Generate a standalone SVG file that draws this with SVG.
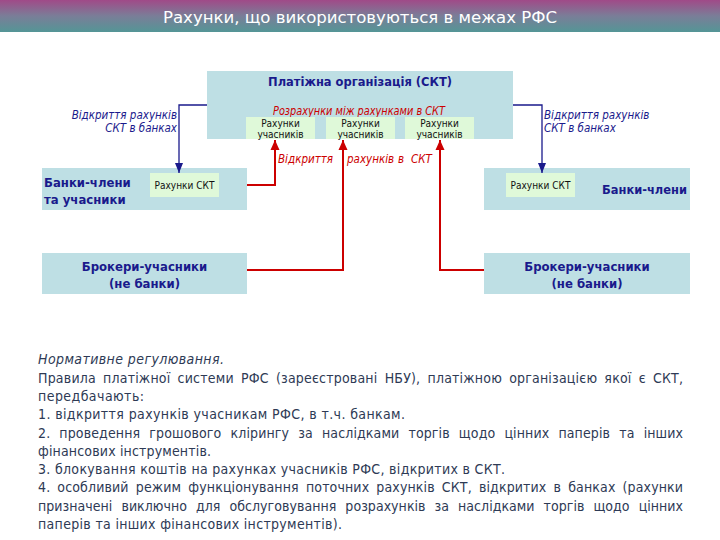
<svg xmlns="http://www.w3.org/2000/svg" width="720" height="540" viewBox="0 0 720 540">
<defs>
<linearGradient id="bar" x1="0" y1="0" x2="0" y2="1">
<stop offset="0" stop-color="#A04A88"/>
<stop offset="0.5" stop-color="#7A7E98"/>
<stop offset="1" stop-color="#549696"/>
</linearGradient>
<marker id="arB" markerUnits="userSpaceOnUse" markerWidth="10" markerHeight="10" viewBox="0 0 10 10" refX="10" refY="5" orient="auto">
<path d="M0,1 L10,5 L0,9 Z" fill="#1A1A8C"/>
</marker>
<marker id="arR" markerUnits="userSpaceOnUse" markerWidth="10" markerHeight="10" viewBox="0 0 10 10" refX="10" refY="5" orient="auto">
<path d="M0,0.5 L10,5 L0,9.5 Z" fill="#CC0000"/>
</marker>
</defs>
<style>
.box{fill:#BEDFE4}
.acc{fill:#DFF9D9}
.f{font-family:"DejaVu Sans Condensed","DejaVu Sans","Liberation Sans",sans-serif}
.nb{font-size:13px;font-weight:bold;fill:#1A1A8C}
.sm{font-size:10px;fill:#111}
.lbl{font-size:11.5px;font-style:italic;fill:#1A1A8C}
.red{font-size:11.5px;font-style:italic;fill:#CC0000}
.body{font-size:14px;fill:#2E3A55}
.cb{fill:none;stroke:#1A1A8C;stroke-width:1.3}
.cr{fill:none;stroke:#CC0000;stroke-width:2}
</style>
<rect width="720" height="540" fill="#FFFFFF"/>
<g id="title">
<rect x="0" y="0" width="720" height="32" fill="url(#bar)"/>
<text class="f" x="360" y="23" font-size="16.5" fill="#FFFFFF" text-anchor="middle" textLength="394" lengthAdjust="spacingAndGlyphs">Рахунки, що використовуються в межах РФС</text>
</g>
<g id="skt">
<rect class="box" x="207" y="71" width="306" height="68"/>
<text class="f nb" x="360" y="86" text-anchor="middle" textLength="184" lengthAdjust="spacingAndGlyphs">Платіжна організація (СКТ)</text>
<text class="f red" x="359" y="115" text-anchor="middle" textLength="172" lengthAdjust="spacingAndGlyphs">Розрахунки між рахунками в СКТ</text>
<rect class="acc" x="246" y="117" width="69" height="22"/>
<rect class="acc" x="326" y="117" width="69" height="22"/>
<rect class="acc" x="405" y="117" width="69" height="22"/>
<text class="f sm" text-anchor="middle"><tspan x="280.5" y="127">Рахунки</tspan><tspan x="280.5" y="138">учасників</tspan></text>
<text class="f sm" text-anchor="middle"><tspan x="360.5" y="127">Рахунки</tspan><tspan x="360.5" y="138">учасників</tspan></text>
<text class="f sm" text-anchor="middle"><tspan x="439.5" y="127">Рахунки</tspan><tspan x="439.5" y="138">учасників</tspan></text>
</g>
<g id="banks-left">
<rect class="box" x="42" y="168" width="205" height="42"/>
<text class="f nb"><tspan x="44" y="187">Банки-члени</tspan><tspan x="44" y="204">та учасники</tspan></text>
<rect class="acc" x="150" y="173" width="69" height="24"/>
<text class="f sm" x="184.5" y="189" text-anchor="middle">Рахунки СКТ</text>
</g>
<g id="banks-right">
<rect class="box" x="484" y="168" width="206" height="42"/>
<rect class="acc" x="506" y="173" width="69" height="24"/>
<text class="f sm" x="540.5" y="189" text-anchor="middle">Рахунки СКТ</text>
<text class="f nb" x="602" y="194" textLength="85" lengthAdjust="spacingAndGlyphs">Банки-члени</text>
</g>
<g id="brokers-left">
<rect class="box" x="42" y="253" width="205" height="41"/>
<text class="f nb" text-anchor="middle"><tspan x="144.5" y="271">Брокери-учасники</tspan><tspan x="144.5" y="288">(не банки)</tspan></text>
</g>
<g id="brokers-right">
<rect class="box" x="484" y="253" width="206" height="41"/>
<text class="f nb" text-anchor="middle"><tspan x="587" y="271">Брокери-учасники</tspan><tspan x="587" y="288">(не банки)</tspan></text>
</g>
<g id="connectors">
<path class="cb" d="M207,105 H179 V173" marker-end="url(#arB)"/>
<path class="cb" d="M513,105 H542 V173" marker-end="url(#arB)"/>
<path class="cr" d="M247,185 H275 V140" marker-end="url(#arR)"/>
<path class="cr" d="M247,270 H343 V140" marker-end="url(#arR)"/>
<path class="cr" d="M484,270 H440 V140" marker-end="url(#arR)"/>
<text class="f lbl" text-anchor="end"><tspan x="177" y="119">Відкриття рахунків</tspan><tspan x="177" y="132">СКТ в банках</tspan></text>
<text class="f lbl"><tspan x="544" y="119">Відкриття рахунків</tspan><tspan x="544" y="132">СКТ в банках</tspan></text>
<text class="f red" y="163" font-size="11"><tspan x="278">Відкриття</tspan><tspan x="347">рахунків</tspan><tspan x="398">в</tspan><tspan x="411">СКТ</tspan></text>
</g>
<g id="notes" class="f body">
<text x="38" y="364" font-style="italic" textLength="186" lengthAdjust="spacing">Нормативне регулювання.</text>
<text x="38" y="382.5" word-spacing="3" textLength="645" lengthAdjust="spacing">Правила платіжної системи РФС (зареєстровані НБУ), платіжною організацією якої є СКТ,</text>
<text x="38" y="401" textLength="106" lengthAdjust="spacing">передбачають:</text>
<text x="38" y="419" textLength="367" lengthAdjust="spacing">1. відкриття рахунків учасникам РФС, в т.ч. банкам.</text>
<text x="38" y="437.5" word-spacing="5" textLength="645" lengthAdjust="spacing">2. проведення грошового клірингу за наслідками торгів щодо цінних паперів та інших</text>
<text x="38" y="455.5" textLength="173" lengthAdjust="spacing">фінансових інструментів.</text>
<text x="38" y="474" textLength="467" lengthAdjust="spacing">3. блокування коштів на рахунках учасників РФС, відкритих в СКТ.</text>
<text x="38" y="492" word-spacing="3" textLength="645" lengthAdjust="spacing">4. особливий режим функціонування поточних рахунків СКТ, відкритих в банках (рахунки</text>
<text x="38" y="510.5" word-spacing="5" textLength="645" lengthAdjust="spacing">призначені виключно для обслуговування розрахунків за наслідками торгів щодо цінних</text>
<text x="38" y="529" textLength="304" lengthAdjust="spacing">паперів та інших фінансових інструментів).</text>
</g>
</svg>
